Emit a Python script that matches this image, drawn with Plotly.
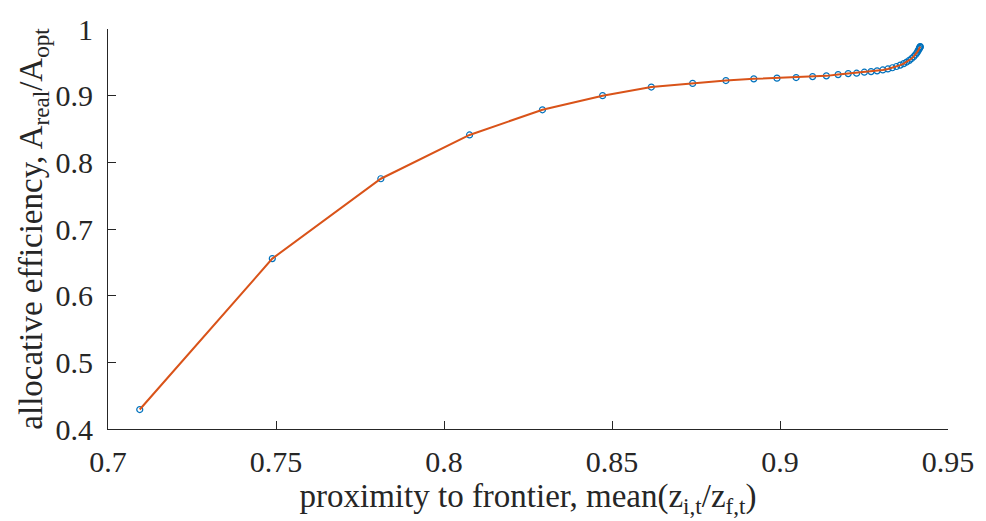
import plotly.graph_objects as go

# proximity to frontier (x) and allocative efficiency (y)
proximity = [0.70945, 0.7489, 0.7812, 0.8076, 0.8293, 0.8472, 0.8617, 0.8740,
             0.8839, 0.8922, 0.8991, 0.9048, 0.9097, 0.9138, 0.9173, 0.9203,
             0.9228, 0.9251, 0.9271, 0.9289, 0.9306, 0.93212, 0.93344, 0.93467,
             0.93579, 0.93682, 0.93771, 0.93850, 0.93918, 0.93977, 0.94030,
             0.94071, 0.94103, 0.94130, 0.94148, 0.94162, 0.94170, 0.94175]
efficiency = [0.4292, 0.6556, 0.7754, 0.8411, 0.8788, 0.9000, 0.9129, 0.9184,
              0.9227, 0.9252, 0.9263, 0.9272, 0.9286, 0.9297, 0.9316, 0.9331,
              0.9337, 0.9352, 0.9361, 0.9372, 0.9386, 0.94006, 0.94184, 0.94377,
              0.94585, 0.94807, 0.95045, 0.95297, 0.95564, 0.95846, 0.96128,
              0.96409, 0.96677, 0.96914, 0.97092, 0.97240, 0.97310, 0.97360]

x_ticks = [0.7, 0.75, 0.8, 0.85, 0.9, 0.95]
x_labels = ["0.7", "0.75", "0.8", "0.85", "0.9", "0.95"]
y_ticks = [0.4, 0.5, 0.6, 0.7, 0.8, 0.9, 1.0]
y_labels = ["0.4", "0.5", "0.6", "0.7", "0.8", "0.9", "1"]

axis_color = "#262626"
font_family = "Liberation Serif"
fs = 30
title_fs = 33

fig = go.Figure()
fig.add_trace(go.Scatter(
    x=proximity, y=efficiency, mode="markers",
    marker=dict(symbol="circle-open", size=6, color="#0072BD",
                line=dict(width=1.2, color="#0072BD")),
    showlegend=False, hoverinfo="skip"))
fig.add_trace(go.Scatter(
    x=proximity, y=efficiency, mode="lines",
    line=dict(color="#D95319", width=2),
    showlegend=False))

fig.update_layout(
    width=986, height=521,
    margin=dict(l=108, r=29, t=25, b=92),
    paper_bgcolor="white", plot_bgcolor="white",
    font=dict(family=font_family, size=fs, color=axis_color),
    xaxis=dict(
        range=[0.7, 0.95], tickvals=x_ticks, ticktext=x_labels,
        showgrid=False, zeroline=False,
        showline=True, linecolor=axis_color, linewidth=1,
        ticks="inside", ticklen=8, tickcolor=axis_color, tickwidth=1,
        tickfont=dict(family=font_family, size=fs, color=axis_color),
        ticklabelstandoff=6,
        title=dict(text="proximity to frontier, mean(z<sub>i,t</sub>/z<sub>f,t</sub>)",
                   font=dict(family=font_family, size=title_fs, color=axis_color),
                   standoff=2),
    ),
    yaxis=dict(
        range=[0.4, 1.0], tickvals=y_ticks, ticktext=y_labels,
        showgrid=False, zeroline=False,
        showline=True, linecolor=axis_color, linewidth=1,
        ticks="inside", ticklen=8, tickcolor=axis_color, tickwidth=1,
        tickfont=dict(family=font_family, size=fs, color=axis_color),
        ticklabelstandoff=8,
        title=dict(text="allocative efficiency, A<sub>real</sub>/A<sub>opt</sub>",
                   font=dict(family=font_family, size=title_fs, color=axis_color),
                   standoff=2),
    ),
)

fig.write_html("out.html")
